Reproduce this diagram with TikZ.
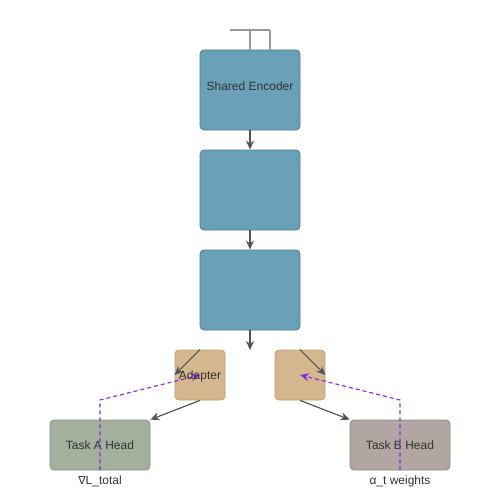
\documentclass[tikz,border=0pt]{standalone}
\usepackage{fontspec}
\setmainfont{Liberation Sans}
\newfontfamily\symfont{DejaVu Sans}
\usetikzlibrary{arrows.meta}
\definecolor{encfill}{HTML}{6AA1B8}
\definecolor{encdraw}{HTML}{4D7F94}
\definecolor{adfill}{HTML}{D4B78E}
\definecolor{addraw}{HTML}{BE9E72}
\definecolor{afill}{HTML}{A3B09B}
\definecolor{adraw}{HTML}{86937E}
\definecolor{bfill}{HTML}{B1A6A1}
\definecolor{bdraw}{HTML}{918580}
\definecolor{txt}{HTML}{333333}
\definecolor{arr}{HTML}{555555}
\definecolor{purp}{HTML}{8A2BE2}
\tikzset{
  box/.style={draw, rounded corners=4pt, line width=0.8pt, minimum width=100pt, minimum height=80pt, text=txt, font=\fontsize{12pt}{14pt}\selectfont, inner sep=0pt},
  enc/.style={box, fill=encfill, draw=encdraw},
  adap/.style={box, fill=adfill, draw=addraw, minimum width=50pt, minimum height=50pt},
  head/.style={box, minimum width=100pt, minimum height=50pt},
  conn/.style={draw=arr, line width=1.2pt, -{Stealth[length=9pt,width=8pt]}},
  grad/.style={draw=purp, line width=1.2pt, dashed, dash pattern=on 4pt off 3pt, -{Stealth[length=9pt,width=8pt]}},
  lbl/.style={text=txt, font=\fontsize{12pt}{14pt}\selectfont, inner sep=0pt},
}
\begin{document}
\begin{tikzpicture}[x=1pt,y=-1pt]
\useasboundingbox (0,0) rectangle (500,500);
\node[enc] (e1) at (250,90) {};
\node[lbl] (e1t) at (250,86) {Shared Encoder};
\node[enc] (e2) at (250,190) {};
\node[enc] (e3) at (250,290) {};
\coordinate (e3out) at (250,350);
\node[adap] (ad1) at (200,375) {};
\node[adap] (ad2) at (300,375) {};
\node[head, fill=afill, draw=adraw] (ha) at (100,445) {Task A Head};
\node[head, fill=bfill, draw=bdraw] (hb) at (400,445) {Task B Head};
\node[lbl] (la) at (100,481) {{\symfont\fontsize{11pt}{14pt}\selectfont ∇}L\_total};
\node[lbl] (lb) at (400,481) {α\_t weights};
% input lines
\coordinate (inL) at (230,30);
\coordinate (inR) at (270,30);
\draw[draw=black!40, line width=1.2pt] (inL) -- (inR) (250,30) -- (e1.north) (inR) -- (e1.north -| inR);
% encoder chain
\draw[conn] (e1.south) -- (e2.north);
\draw[conn] (e2.south) -- (e3.north);
\draw[conn] (e3.south) -- (e3out);
% adapters
\draw[conn] (ad1.north) -- (ad1.west);
\draw[conn] (ad2.north) -- (ad2.east);
\draw[conn] (ad1.south) -- (ha.north east);
\draw[conn] (ad2.south) -- (hb.north west);
% gradient feedback
\draw[grad] (ha.south) -- (100,400) -- (ad1.center);
\draw[grad] (hb.south) -- (400,400) -- (ad2.center);
\node[lbl] at (200,376) {Adapter};
\end{tikzpicture}
\end{document}
